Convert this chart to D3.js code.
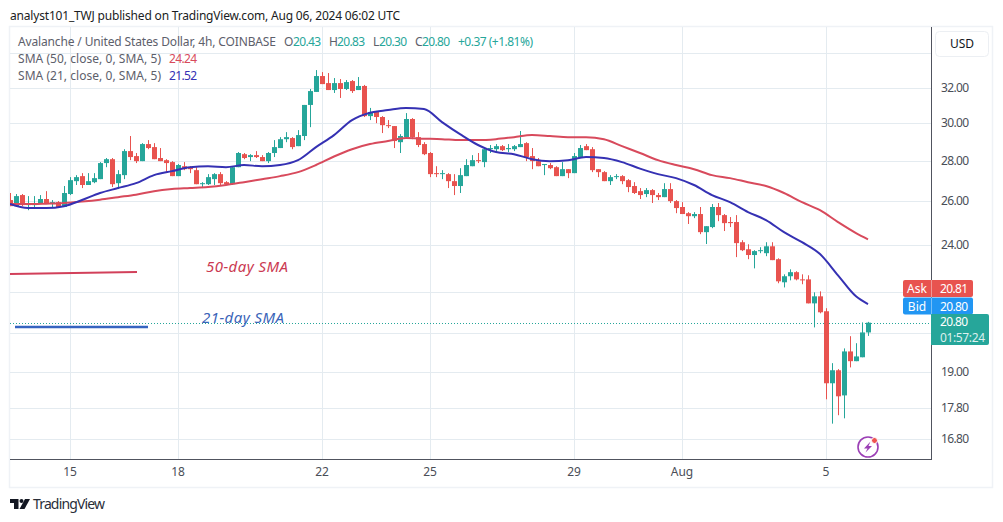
<!DOCTYPE html>
<html>
<head>
<meta charset="utf-8">
<script src="https://cdnjs.cloudflare.com/ajax/libs/d3/7.8.5/d3.min.js"></script>
<style>
  html, body { margin: 0; padding: 0; background: #fff; }
  svg { display: block; }
  text { font-family: "Noto Sans", sans-serif; }
</style>
</head>
<body>
<svg id="chart" width="1003" height="522"></svg>
<script>
// 4h candles, oldest first
const opens = [26.05,25.76,26.29,25.81,25.81,25.91,26.10,25.86,25.95,25.72,26.34,26.97,27.22,26.78,26.92,27.07,27.88,28.08,26.87,27.27,28.50,28.24,27.98,28.87,28.71,28.14,28.03,27.93,27.22,27.72,27.67,27.52,26.82,26.82,27.07,27.32,26.92,26.82,27.67,28.34,28.19,28.29,28.19,27.98,28.40,28.66,29.13,29.19,28.76,29.30,31.02,31.77,32.71,32.29,31.88,32.29,31.94,32.41,31.88,32.12,30.39,30.62,30.34,29.89,29.84,28.97,29.24,30.23,29.24,28.87,28.40,27.37,27.32,27.32,26.97,26.73,27.22,27.72,28.03,27.93,28.60,28.60,28.76,28.60,28.60,28.71,28.92,28.24,27.98,27.78,27.78,27.67,27.22,27.57,27.37,28.19,28.76,28.60,27.57,27.42,26.97,27.17,27.22,27.02,26.73,26.48,26.34,26.53,26.29,26.19,26.58,26.00,25.72,25.43,25.29,25.39,24.56,24.79,25.72,25.34,25.02,25.02,24.11,23.80,23.55,23.72,23.63,23.93,23.37,22.40,22.65,22.82,22.52,22.52,21.55,21.83,21.24,18.61,19.06,18.20,19.73,19.38,19.52,20.43];
const highs = [26.39,26.34,26.34,26.24,26.24,26.29,26.48,26.05,26.00,26.73,27.17,27.27,27.37,27.37,27.37,27.93,28.14,28.14,27.52,28.60,29.30,28.40,28.92,29.08,28.92,28.66,28.08,27.98,27.83,27.93,27.72,27.67,26.92,27.32,27.37,27.42,26.97,27.72,28.45,28.40,28.34,28.50,28.29,28.45,29.08,29.24,29.51,29.24,29.62,31.02,31.94,33.07,32.95,32.89,32.59,32.53,32.47,32.47,32.65,32.18,30.85,30.68,30.39,30.17,29.84,29.40,30.56,30.28,29.51,28.97,28.45,27.72,27.52,27.37,27.32,27.62,28.08,28.29,28.40,28.66,28.82,28.87,28.82,28.87,28.82,29.57,28.97,28.66,28.14,27.83,27.88,27.72,27.93,27.57,28.40,28.82,28.87,28.71,27.57,27.47,27.27,27.32,27.27,27.07,26.92,26.63,26.63,26.58,26.39,26.87,26.87,26.05,25.95,25.48,25.48,25.72,24.83,25.86,25.91,25.39,25.25,25.34,24.20,24.02,23.76,23.89,24.11,24.11,23.41,22.73,22.94,22.86,22.73,22.69,21.99,22.03,21.36,19.31,19.10,19.84,20.29,20.03,20.81,20.83];
const lows = [25.76,25.72,25.76,25.57,25.67,25.86,25.86,25.67,25.72,25.72,26.29,26.78,26.63,26.78,26.87,27.07,27.67,26.68,26.58,27.07,28.03,27.88,27.98,28.60,28.08,27.98,27.42,27.22,27.22,27.52,27.37,26.82,26.63,26.78,26.78,26.73,26.78,26.78,27.67,28.08,27.98,28.14,27.98,27.88,28.19,28.66,28.97,28.60,28.76,29.08,29.78,31.77,32.23,31.88,31.71,31.42,31.88,31.71,31.88,30.34,30.17,30.00,29.46,29.73,28.66,28.40,29.24,29.13,28.71,28.29,27.17,27.17,27.07,26.63,26.29,26.39,27.22,27.72,27.88,27.67,28.40,28.40,28.50,28.45,28.50,28.71,27.98,27.57,27.72,27.27,27.57,27.22,27.22,27.12,27.37,28.19,28.55,27.42,27.17,26.97,26.78,27.07,26.82,26.43,26.34,26.10,26.19,25.91,26.05,26.19,25.91,25.43,25.39,24.93,25.20,24.47,24.03,24.74,25.06,24.61,24.79,23.46,23.72,23.37,22.98,23.63,23.50,23.33,22.36,22.19,22.48,22.48,22.32,21.55,20.62,21.16,18.07,17.28,17.55,17.45,19.16,19.38,19.52,20.30];
const closes = [25.76,26.24,25.81,25.91,25.91,26.10,25.91,25.95,25.72,26.39,27.02,27.17,26.78,26.97,27.12,27.88,28.08,26.82,27.32,28.50,28.19,27.98,28.87,28.66,28.08,27.98,27.88,27.22,27.78,27.57,27.57,26.82,26.87,27.17,27.32,26.87,26.82,27.67,28.40,28.14,28.29,28.19,27.98,28.40,28.71,29.13,29.24,28.71,29.35,31.02,31.82,32.71,32.23,31.88,32.29,31.94,32.35,31.82,32.12,30.39,30.62,30.34,29.89,29.84,29.03,29.30,30.23,29.24,28.82,28.34,27.32,27.32,27.37,26.97,26.73,27.27,27.78,28.03,27.98,28.60,28.66,28.76,28.55,28.66,28.76,28.87,28.19,27.98,27.72,27.83,27.62,27.22,27.57,27.37,28.24,28.66,28.55,27.52,27.42,26.97,27.17,27.22,26.97,26.68,26.39,26.29,26.53,26.29,26.19,26.58,26.00,25.67,25.39,25.29,25.39,24.56,24.83,25.72,25.34,24.97,24.97,24.07,23.76,23.55,23.72,23.76,23.93,23.33,22.44,22.65,22.82,22.52,22.48,21.55,21.83,21.20,18.61,19.06,18.17,19.73,19.38,19.55,20.43,20.80];

// moving averages, read every third candle plus the last one
const smaIndex = d3.range(0, 142, 3).concat(143);
const sma50 = [25.86,25.86,25.88,25.91,25.98,26.07,26.19,26.31,26.48,26.58,26.63,26.68,26.78,26.92,27.07,27.22,27.42,27.78,28.22,28.60,28.87,29.03,29.19,29.16,29.13,29.08,29.08,29.13,29.24,29.35,29.30,29.24,29.24,29.13,28.76,28.40,28.03,27.78,27.57,27.27,27.12,26.92,26.73,26.39,25.95,25.57,25.02,24.52,24.24];
const sma21 = [25.86,25.67,25.67,25.76,26.05,26.39,26.63,26.87,27.27,27.47,27.67,27.72,27.67,27.78,27.72,27.78,28.03,28.71,29.35,30.17,30.58,30.73,30.85,30.79,30.06,29.40,28.82,28.45,28.34,28.08,27.98,28.03,28.19,28.14,27.93,27.60,27.32,27.12,26.78,26.29,25.95,25.48,25.11,24.56,24.11,23.59,22.69,21.83,21.52];

// axis ticks
const timeTicks = [10, 28, 52, 70, 94, 112, 136];
const timeLabels = ["15", "18", "22", "25", "29", "Aug", "5"];
const priceLabels = [32, 30, 28, 26, 24, 19, 17.8, 16.8];
const gridPrices = [34.1, 32, 30, 28, 26, 24, 22, 20.4, 19, 17.8, 16.8];

const lastPrice = 20.8;

const UP = "#26a69a";
const DOWN = "#e8534f";
const GRID = "#e4ebf0";

const paneLeft = 10, paneRight = 931, paneTop = 27, paneBottom = 459;

const svg = d3.select("#chart");

const x = d3.scaleLinear().domain([0, 143]).range([10, 868]);
const y = d3.scaleLog().domain([32, 16.8]).range([88, 439]);

const candles = opens.map((o, i) => ({
  i: i,
  open: o,
  high: highs[i],
  low: lows[i],
  close: closes[i],
}));

svg
  .append("defs")
  .append("clipPath")
  .attr("id", "pane")
  .append("rect")
  .attr("x", paneLeft)
  .attr("y", paneTop)
  .attr("width", paneRight - paneLeft)
  .attr("height", paneBottom - paneTop);

// outer frame
svg
  .append("rect")
  .attr("x", 9.5)
  .attr("y", 26.5)
  .attr("width", 983)
  .attr("height", 461)
  .attr("fill", "none")
  .attr("stroke", "#eff2f6")
  .attr("stroke-width", 1.5);

// grid
svg
  .append("g")
  .selectAll("line")
  .data(gridPrices)
  .join("line")
  .attr("x1", paneLeft)
  .attr("x2", paneRight)
  .attr("y1", (d) => Math.round(y(d)) + 0.5)
  .attr("y2", (d) => Math.round(y(d)) + 0.5)
  .attr("stroke", GRID);

svg
  .append("g")
  .selectAll("line")
  .data(timeTicks)
  .join("line")
  .attr("x1", (d) => x(d) + 0.5)
  .attr("x2", (d) => x(d) + 0.5)
  .attr("y1", paneTop)
  .attr("y2", paneBottom)
  .attr("stroke", GRID);

const pane = svg.append("g").attr("clip-path", "url(#pane)");

// last price line
pane
  .append("line")
  .attr("x1", paneLeft)
  .attr("x2", paneRight)
  .attr("y1", Math.round(y(lastPrice)) + 0.5)
  .attr("y2", Math.round(y(lastPrice)) + 0.5)
  .attr("stroke", UP)
  .attr("stroke-dasharray", "1,2");

// candles
pane
  .append("g")
  .selectAll("line")
  .data(candles)
  .join("line")
  .attr("x1", (d) => x(d.i) + 0.5)
  .attr("x2", (d) => x(d.i) + 0.5)
  .attr("y1", (d) => y(d.high))
  .attr("y2", (d) => y(d.low))
  .attr("stroke", (d) => (d.close >= d.open ? UP : DOWN));

pane
  .append("g")
  .selectAll("rect")
  .data(candles)
  .join("rect")
  .attr("x", (d) => x(d.i) - 2)
  .attr("width", 5)
  .attr("y", (d) => y(Math.max(d.open, d.close)))
  .attr("height", (d) =>
    Math.max(1, y(Math.min(d.open, d.close)) - y(Math.max(d.open, d.close)))
  )
  .attr("fill", (d) => (d.close >= d.open ? UP : DOWN));

// moving averages
const smaLine = d3
  .line()
  .x((d, i) => x(smaIndex[i]))
  .y((d) => y(d))
  .curve(d3.curveMonotoneX);

pane
  .append("path")
  .attr("d", smaLine(sma50))
  .attr("fill", "none")
  .attr("stroke", "#d84a5c")
  .attr("stroke-width", 2);

pane
  .append("path")
  .attr("d", smaLine(sma21))
  .attr("fill", "none")
  .attr("stroke", "#3531b3")
  .attr("stroke-width", 2);

// hand drawn notes on the chart
svg
  .append("path")
  .attr("d", "M10,274L137,272")
  .attr("stroke", "#d2405a")
  .attr("stroke-width", 2)
  .attr("fill", "none");
svg
  .append("path")
  .attr("d", "M15,327L148,327")
  .attr("stroke", "#3564c0")
  .attr("stroke-width", 2.5)
  .attr("fill", "none");

svg
  .append("text")
  .attr("x", 206)
  .attr("y", 272)
  .attr("font-size", 15)
  .attr("font-style", "italic")
  .attr("fill", "#cb3a52")
  .attr("textLength", 82)
  .text("50-day SMA");
svg
  .append("text")
  .attr("x", 202)
  .attr("y", 323)
  .attr("font-size", 15)
  .attr("font-style", "italic")
  .attr("fill", "#3a64b8")
  .attr("textLength", 82)
  .text("21-day SMA");

// axes
const xAxis = d3
  .axisBottom(x)
  .tickValues(timeTicks)
  .tickFormat((d, i) => timeLabels[i])
  .tickSize(0)
  .tickPadding(8);

const xG = svg
  .append("g")
  .attr("transform", `translate(-0.5,${paneBottom})`)
  .call(xAxis);
xG.select(".domain").remove();
xG.selectAll("text")
  .attr("font-size", 12)
  .attr("font-family", "Noto Sans")
  .attr("fill", "#4a4e57");

const yAxis = d3
  .axisRight(y)
  .tickValues(priceLabels)
  .tickFormat(d3.format(".2f"))
  .tickSize(0)
  .tickPadding(10);

const yG = svg
  .append("g")
  .attr("transform", `translate(${paneRight},0)`)
  .call(yAxis);
yG.select(".domain").remove();
yG.selectAll("text")
  .attr("font-size", 12)
  .attr("font-family", "Noto Sans")
  .attr("textLength", 28)
  .attr("fill", "#4a4e57");

svg
  .append("line")
  .attr("x1", paneLeft)
  .attr("x2", paneRight + 0.5)
  .attr("y1", paneBottom + 0.5)
  .attr("y2", paneBottom + 0.5)
  .attr("stroke", "#50535e");
svg
  .append("line")
  .attr("x1", paneRight + 0.5)
  .attr("x2", paneRight + 0.5)
  .attr("y1", paneTop)
  .attr("y2", paneBottom + 1)
  .attr("stroke", "#50535e");

// USD button
svg
  .append("rect")
  .attr("x", 935.5)
  .attr("y", 31.5)
  .attr("width", 53)
  .attr("height", 25)
  .attr("rx", 4)
  .attr("fill", "#fff")
  .attr("stroke", "#eceff3");
svg
  .append("text")
  .attr("x", 962)
  .attr("y", 48)
  .attr("text-anchor", "middle")
  .attr("font-size", 12)
  .attr("fill", "#131722")
  .text("USD");

// ask, bid and last price tags
const tags = [
  { name: "Ask", value: "20.81", fill: DOWN, y0: 280, h: 17 },
  { name: "Bid", value: "20.80", fill: "#2196f3", y0: 297.5, h: 17 },
];
tags.forEach((t) => {
  svg
    .append("rect")
    .attr("x", 903)
    .attr("y", t.y0)
    .attr("width", 70)
    .attr("height", t.h)
    .attr("rx", 2)
    .attr("fill", t.fill);
  svg
    .append("line")
    .attr("x1", paneRight + 0.5)
    .attr("x2", paneRight + 0.5)
    .attr("y1", t.y0)
    .attr("y2", t.y0 + t.h)
    .attr("stroke", "#fff")
    .attr("stroke-opacity", 0.4);
  svg
    .append("text")
    .attr("x", 917)
    .attr("y", t.y0 + 13)
    .attr("text-anchor", "middle")
    .attr("font-size", 12)
    .attr("fill", "#fff")
    .text(t.name);
  svg
    .append("text")
    .attr("x", 940)
    .attr("y", t.y0 + 13)
    .attr("font-size", 12)
    .attr("fill", "#fff")
    .attr("textLength", 28)
    .text(t.value);
});

svg
  .append("path")
  .attr("d", "M931,314H987a2,2 0 0 1 2,2V343a2,2 0 0 1 -2,2H931Z")
  .attr("fill", UP);
svg
  .append("text")
  .attr("x", 940)
  .attr("y", 326)
  .attr("font-size", 12)
  .attr("fill", "#fff")
  .attr("textLength", 28)
  .text("20.80");
svg
  .append("text")
  .attr("x", 940)
  .attr("y", 342)
  .attr("font-size", 12)
  .attr("fill", "#fff")
  .attr("fill-opacity", 0.85)
  .attr("textLength", 45)
  .text("01:57:24");

// lightning badge
const badge = svg.append("g").attr("transform", "translate(868,447)");
badge
  .append("circle")
  .attr("r", 10)
  .attr("fill", "#fff")
  .attr("stroke", "#9b3fb5")
  .attr("stroke-width", 1.6);
badge
  .append("path")
  .attr("d", "M2.5,-5.5L-4,1.5H-0.5L-2.5,5.5L4,-1H0.5Z")
  .attr("fill", "#9b3fb5");
badge
  .append("circle")
  .attr("cx", 6.5)
  .attr("cy", -6.5)
  .attr("r", 3)
  .attr("fill", "#ef5350")
  .attr("stroke", "#fff");

// header and legend
function label(px, py, str, fill, width, size) {
  const t = svg
    .append("text")
    .attr("x", px)
    .attr("y", py)
    .attr("font-size", size || 12)
    .attr("fill", fill)
    .text(str);
  if (width) t.attr("textLength", width);
  return t;
}

label(10, 20, "analyst101_TWJ published on TradingView.com, Aug 06, 2024 06:02 UTC", "#1a1c22", 390);

const GREY = "#5d606b";
label(18, 46, "Avalanche / United States Dollar, 4h, COINBASE", GREY, 258);
label(284, 46, "O", GREY, 8);
label(293, 46, "20.43", UP, 28);
label(329, 46, "H", GREY, 8);
label(337, 46, "20.83", UP, 28);
label(373, 46, "L", GREY, 6);
label(379, 46, "20.30", UP, 28);
label(415, 46, "C", GREY, 8);
label(422, 46, "20.80", UP, 28);
label(458, 46, "+0.37 (+1.81%)", UP, 75);

label(18, 63, "SMA (50, close, 0, SMA, 5)", GREY, 143);
label(169, 63, "24.24", "#d84a5c", 28);
label(18, 80, "SMA (21, close, 0, SMA, 5)", GREY, 143);
label(169, 80, "21.52", "#3531b3", 28);

// TradingView logo
const logo = svg.append("g").attr("transform", "translate(10,499)").attr("fill", "#131722");
logo.append("path").attr("d", "M0,0H8.5V10H4V4H0Z");
logo.append("circle").attr("cx", 11.5).attr("cy", 2).attr("r", 2);
logo.append("path").attr("d", "M15,0H20L14.5,10H9.5Z");
label(33, 509, "TradingView", "#2a2e39", 72, 14);
</script>
</body>
</html>
